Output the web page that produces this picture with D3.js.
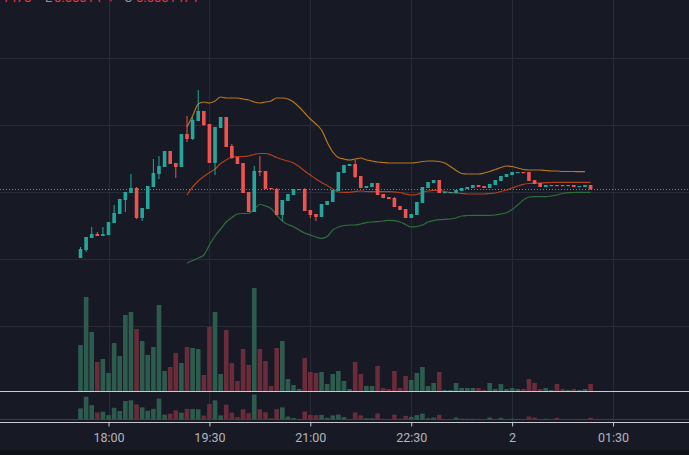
<!DOCTYPE html>
<html>
<head>
<meta charset="utf-8">
<script src="https://cdn.jsdelivr.net/npm/d3@7"></script>
<style>
  html, body { margin: 0; padding: 0; background: #171a25; overflow: hidden; }
  svg { display: block; font-family: Roboto, "Noto Sans", sans-serif; }
</style>
</head>
<body>
<div id="chart"></div>
<script>

// 5 minute candles, first one at 17:35
var startTime = new Date(2024, 0, 1, 17, 35);
var stepMinutes = 5;

var open = [142,150,162,166,164,165,177,186,200,207,212,182,191,213,226,233,249,237,233,266,
  261,279,289,276,237,272,283,254,243,237,208,188,229,229,212,211,185,199,205,210.5,
  211,190,186,183,195,198,209,227,234,236,224,212,213,217,206,203,202,194,191,182,
  185,197,212,217,220,207.5,207.5,207,209,211,212,215,214,212,215,219,223,225,227,228,
  228,220,217,213,214,215,215,214,215,213,213,215];
var high = [153,163,173,168,173,178,195,201,208,226,213,192,214,241,244,249,249,237,266,284,
  283,310,289,276,273,283,283,256,243,237,208,234,244,229,212,212,200,206,211,211,
  212,190,186,196,199,210,228,235,236,240,224,214,217,217,206,203,203,194,191,186,
  198,213,218,220,220,208,208,210,212,213,215,215,214,216,220,224,226,228,228,228,
  228,220,217,215,215,215,215,215,215,214,215,215];
var low = [142,148,162,164,164,165,177,186,188,207,181,179,191,213,221,233,236,222,233,258,
  260,279,274,237,225,272,253,241,236,207,188,188,224,211,211,185,179,199,205,210.5,
  189,182,179,183,195,198,209,227,234,222,212,212,213,205,202,201,193,190,182,182,
  185,197,212,217,207,207.5,207.5,207,209,211,212,213,212,212,215,219,223,225,227,227,
  219,216,213,213,214,214,214,214,213,213,213,210.5];
var close = [151,163,166,164,166,178,187,201,208,212,182,192,214,227,234,249,236,233,266,261,
  280,289,275,237,273,283,253,242,236,207,188,229,228,211,211,185,200,206,211,211,
  189,185,183,196,199,210,228,235,236,223,212,214,217,205,202,201,193,190,182,186,
  198,213,218,220,207,208,208,210,212,213,215,213,212,216,220,224,226,228,228,227,
  219,216,213,215,215,214,214,215,213,214,215,210.5];
var volume = [46,94,59,29,32,18,48,35,76,79,62,50,36,44,86,20,24,38,28,44,
  43,42,16,64,79,17,61,28,10,42,26,103,42,30,5,43,50,12,6,2,
  33,19,18,19,7,17,20,10,2,29,17,5,5,25,3,2,20,3,15,11,
  18,24,5,8,19,1,1,8,3,3,3,3,1,8,2,7,2,3,2,2,
  12,8,2,3,1,7,2,1,2,1,2,7];

// bollinger bands, from candle 19 onwards
var bandStart = 19;
var bandUpper = [273,284,296,298,297,299,303,302,302,302,301,300,298,297,298,299,302,302,301,298,
  293,287,281,276,270,258,248,242.5,241,240,241,242,240,239,238,237.5,237,237,237,237,
  237,237.5,238.5,239,239,238.5,237,233.5,229.5,226.5,226,226,226,227,228.5,230.5,232.5,234,233.5,232,
  230.5,230,230,230,229.5,229,229,228.5,228.5,228.5,228.3,228.3];
var bandMiddle = [205,213,219,223.5,227.5,231,236.5,240,243,243.5,243.5,244,245.5,246.5,246.5,245,242.5,240.5,239,237,
  233.5,229,225,221,217.5,214.5,211,208,207.7,207.7,208.5,209,208.5,208.3,208.3,208.3,208.3,208,207.5,206,
  205,205.5,207.5,209,209.7,209.5,208.5,207.5,207,206.5,206,206,206,206,206.5,207,208.5,210,212,214,
  215.7,216.5,216.8,217,217.3,217.5,217.6,217.7,217.7,217.7,217.7,217.7,217.7];
var bandLower = [137,139.5,142,145,155,164,171,178,182.5,186,186.5,186.5,191,195.5,194,191.5,185,179,175.5,173.3,
  170,167,165,163,161.7,163.5,170,173,174.5,175,175,176,177.3,178,178.3,179,179.7,179.3,178,175.5,
  173,173.5,175,178,179.5,180.3,180.7,181,182,184,184.5,184.7,184.7,184.7,184.7,185,186,187.3,190.5,195,
  200,203,203.3,203.3,203.3,204,205,206.5,207.3,207.5,207.7,207.7,207.7];

// price grid and time axis ticks
var gridPrices = [74, 141, 208, 275, 342];
var tickTimes = ["18:00", "19:30", "21:00", "22:30", "00:00", "01:30"];
var tickLabels = ["18:00", "19:30", "21:00", "22:30", "2", "01:30"];

// legend row, only its lowest pixels show at the top edge
var legendParts = [
  {text: "1475", color: "#f23645", x: 2},
  {text: "L", color: "#8f939e", x: 45},
  {text: "0.00014", color: "#f23645", x: 54},
  {text: "+", color: "#f23645", x: 107},
  {text: "C", color: "#8f939e", x: 124},
  {text: "0.0001474", color: "#f23645", x: 136}
];

var width = 689, height = 455;
var upColor = "#26a69a", downColor = "#ef5350";
var upVol = "#2d5b4e", downVol = "#6a2b3a";

var candles = open.map(function(o, i) {
  return {
    date: new Date(startTime.getTime() + i * stepMinutes * 60000),
    open: o, high: high[i], low: low[i], close: close[i], volume: volume[i]
  };
});

function bandSeries(values) {
  return values.map(function(v, i) { return {date: candles[bandStart + i].date, value: v}; });
}

var svg = d3.select("#chart").append("svg")
    .attr("width", width)
    .attr("height", height);

svg.append("rect")
    .attr("width", width).attr("height", height)
    .attr("fill", "#171a25");

// bottom strip under the time axis
svg.append("rect")
    .attr("y", 450).attr("width", width).attr("height", 5)
    .attr("fill", "#0f1118");

// Scales
var x = d3.scaleTime()
    .domain([candles[0].date, candles[candles.length - 1].date])
    .range([80.5, 590.6]);

var y = d3.scaleLinear()
    .domain([74, 342])
    .range([326, 58]);

var yVol = d3.scaleLinear()
    .domain([0, d3.max(volume)])
    .range([391, 288]);

var yVol2 = d3.scaleLinear()
    .domain([0, d3.max(volume)])
    .range([419.5, 394.5]);

var tickDates = tickTimes.map(function(t) {
  var p = t.split(":");
  var d = new Date(startTime);
  d.setHours(+p[0], +p[1], 0, 0);
  if (d < startTime) d.setDate(d.getDate() + 1);
  return d;
});

// grid
svg.append("g").selectAll("line")
    .data(gridPrices)
  .enter().append("line")
    .attr("x1", 0).attr("x2", width)
    .attr("y1", function(d) { return Math.round(y(d)) + 0.5; })
    .attr("y2", function(d) { return Math.round(y(d)) + 0.5; })
    .attr("stroke", "#282c38");

svg.append("g").selectAll("line")
    .data(tickDates)
  .enter().append("line")
    .attr("x1", function(d) { return Math.round(x(d)) + 0.5; })
    .attr("x2", function(d) { return Math.round(x(d)) + 0.5; })
    .attr("y1", 0).attr("y2", 422)
    .attr("stroke", "#282c38");

// volume
var barW = 4.6;
svg.append("g").selectAll("rect")
    .data(candles)
  .enter().append("rect")
    .attr("x", function(d) { return x(d.date) - barW / 2; })
    .attr("y", function(d) { return yVol(d.volume); })
    .attr("width", barW)
    .attr("height", function(d) { return yVol(0) - yVol(d.volume); })
    .attr("fill", function(d) { return d.close >= d.open ? upVol : downVol; });

// lower pane volume
svg.append("line")
    .attr("x1", 0).attr("x2", width)
    .attr("y1", 419.5).attr("y2", 419.5)
    .attr("stroke", "#3a3e4a");

svg.append("g").selectAll("rect")
    .data(candles)
  .enter().append("rect")
    .attr("x", function(d) { return x(d.date) - barW / 2; })
    .attr("y", function(d) { return yVol2(d.volume); })
    .attr("width", barW)
    .attr("height", function(d) { return yVol2(0) - yVol2(d.volume); })
    .attr("fill", function(d) { return d.close >= d.open ? upVol : downVol; });

// bands
var line = d3.line()
    .x(function(d) { return x(d.date); })
    .y(function(d) { return y(d.value); })
    .curve(d3.curveMonotoneX);

[[bandUpper, "#b9761d"], [bandMiddle, "#b2401a"], [bandLower, "#2f6e3c"]].forEach(function(b) {
  svg.append("path")
      .datum(bandSeries(b[0]))
      .attr("fill", "none")
      .attr("stroke", b[1])
      .attr("stroke-width", 1.2)
      .attr("d", line);
});

// candles
var bodyW = 3.6;
var candle = svg.append("g").selectAll("g")
    .data(candles)
  .enter().append("g");

candle.append("rect")
    .attr("x", function(d) { return x(d.date) - 0.5; })
    .attr("y", function(d) { return y(d.high); })
    .attr("width", 1)
    .attr("height", function(d) { return Math.max(1, y(d.low) - y(d.high)); })
    .attr("fill", function(d) { return d.close >= d.open ? upColor : downColor; });

candle.append("rect")
    .attr("x", function(d) { return x(d.date) - bodyW / 2; })
    .attr("y", function(d) { return y(Math.max(d.open, d.close)); })
    .attr("width", bodyW)
    .attr("height", function(d) { return Math.max(1.2, Math.abs(y(d.open) - y(d.close))); })
    .attr("fill", function(d) { return d.close >= d.open ? upColor : downColor; });

// last price line
var last = candles[candles.length - 1];
svg.append("line")
    .attr("x1", 0).attr("x2", width)
    .attr("y1", Math.floor(y(last.close)) + 0.5).attr("y2", Math.floor(y(last.close)) + 0.5)
    .attr("stroke", "#f2505e")
    .attr("stroke-width", 1)
    .attr("shape-rendering", "crispEdges")
    .attr("stroke-dasharray", "1,2");

// pane separators
[391, 422].forEach(function(py) {
  svg.append("line")
      .attr("x1", 0).attr("x2", width)
      .attr("y1", py + 0.5).attr("y2", py + 0.5)
      .attr("stroke", "#c9cbd0");
});

// time axis
var xAxis = d3.axisBottom(x)
    .tickValues(tickDates)
    .tickSize(4)
    .tickPadding(7)
    .tickFormat(function(d, i) { return tickLabels[i]; });

var axisG = svg.append("g")
    .attr("transform", "translate(0,422.5)")
    .call(xAxis);
axisG.select(".domain").remove();
axisG.selectAll(".tick line").attr("stroke", "#c9cbd0");
axisG.selectAll(".tick text")
    .attr("fill", "#b2b5be")
    .style("font-size", "12.5px")
    .style("font-family", "Roboto, 'Noto Sans', sans-serif");

var legend = svg.append("text")
    .attr("y", 1.5)
    .style("font-size", "13px");
legendParts.forEach(function(p) {
  legend.append("tspan")
      .attr("x", p.x)
      .attr("fill", p.color)
      .text(p.text);
});

</script>
</body>
</html>
